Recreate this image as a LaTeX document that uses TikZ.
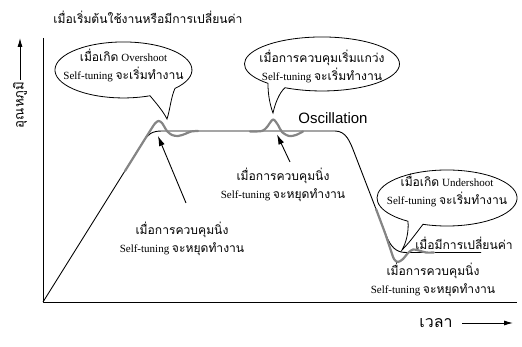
\documentclass[tikz,border=0pt]{standalone}
\usepackage{fontspec}
\setmainfont{Liberation Serif}
\newfontfamily\thai[Script=Thai,Scale=1.1]{Loma}
\newfontfamily\oscfont{Liberation Sans}
\usetikzlibrary{arrows.meta}
\newcommand{\tht}[1]{{\thai #1}}
\begin{document}
\begin{tikzpicture}[x=1pt,y=-1pt,
  txt/.style={align=center, font=\fontsize{11}{18}\selectfont, inner sep=0pt},
  bubble/.style={draw=black, line width=0.8pt, fill=white},
  blk/.style={line width=0.9pt, line join=round},
  grayc/.style={line width=2.2pt, color=black!48, line cap=round, line join=round},
  ptr/.style={line width=0.9pt, -{Latex[length=10pt,width=6pt]}},
  axptr/.style={line width=0.9pt, -{Latex[length=9pt,width=5pt]}}]
\useasboundingbox (0,0) rectangle (522,347);
% axes
\draw[blk] (43,38) -- (43,302) -- (517,302);
% black response
\draw[blk] (43,302) -- (143,142) .. controls (148,134) and (152,131) .. (162,131)
  -- (335,131) .. controls (346,131) and (350,141.6) .. (354,152)
  -- (386,235) .. controls (390.5,246.7) and (396,252.5) .. (406,252.5) -- (481,252.5);
% gray response
\draw[grayc] plot[smooth, tension=0.5] coordinates {(125,171) (150,131) (155,123.5) (158.5,121) (162,123) (167,131) (172,135) (178,136) (185,134) (191,131.5) (198,131)};
\draw[grayc] plot[smooth, tension=0.5] coordinates {(250,131.5) (262,131) (267,127) (273,119.5) (278,125) (282,132) (289,136) (296,135) (303,131.5)};
\draw[grayc] plot[smooth, tension=0.5] coordinates {(376,209) (385,233) (390,248) (394,259) (398,262) (403,259) (408,253) (413,249.5) (419,250.5) (426,252.5) (434,252.5)};
% bubbles
\draw[bubble] (175,88.4) arc[start angle=41.2, end angle=-292.8, x radius=68.5, y radius=28]
  .. controls (156,103) and (163,111) .. (167,119) .. controls (170,110) and (171,97) .. (175,88.4) -- cycle;
\draw[bubble] (285,87.7) arc[start angle=118.5, end angle=-225.8, x radius=77.5, y radius=27]
  .. controls (268,95) and (270,105) .. (273,113) .. controls (275,104) and (279,93) .. (285,87.7) -- cycle;
\draw[bubble] (423,224.3) arc[start angle=110.06, end angle=-236.1, x radius=70, y radius=28]
  .. controls (409,232) and (406,243) .. (402,250) .. controls (410,242) and (417,232) .. (423,224.3) -- cycle;
% texts
\node[txt] (t0) at (148,17) {\tht{เมื่อเริ่มต้นใช้งานหรือมีการเปลี่ยนค่า}};
\node[txt] (b1t) at (123.5,65.5) {\tht{เมื่อเกิด} Overshoot\\Self-tuning \tht{จะเริ่มทำงาน}};
\node[txt] (b2t) at (322,66) {\tht{เมื่อการควบคุมเริ่มแกว่ง}\\Self-tuning \tht{จะเริ่มทำงาน}};
\node[txt] (b3t) at (447,190) {\tht{เมื่อเกิด} Undershoot\\Self-tuning \tht{จะเริ่มทำงาน}};
\node[txt] (l1) at (182,238.5) {\tht{เมื่อการควบคุมนิ่ง}\\Self-tuning \tht{จะหยุดทำงาน}};
\node[txt] (l2) at (283,185) {\tht{เมื่อการควบคุมนิ่ง}\\Self-tuning \tht{จะหยุดทำงาน}};
\node[txt] (l3) at (433,280) {\tht{เมื่อการควบคุมนิ่ง}\\Self-tuning \tht{จะหยุดทำงาน}};
\node[txt] (chg) at (464,243) {\tht{เมื่อมีการเปลี่ยนค่า}};
\node[font=\oscfont\fontsize{15}{15}\selectfont, inner sep=0pt] (osc) at (333,118) {Oscillation};
% axis labels
\node[font=\thai\fontsize{12}{12}\selectfont, rotate=90, inner sep=0pt] (ylab) at (20,105) {อุณหภูมิ};
\coordinate (ya1) at (20,80); \coordinate (ya2) at (20,38);
\draw[axptr] (ya1) -- (ya2);
\node[font=\thai\fontsize{14.5}{14.5}\selectfont, inner sep=0pt] (xlab) at (436,323) {เวลา};
\coordinate (xa1) at (462,323); \coordinate (xa2) at (513,323);
\draw[axptr] (xa1) -- (xa2);
% pointers
\coordinate (p1) at (158,136); \coordinate (p1s) at (186,203);
\draw[ptr] (p1s) -- (p1);
\coordinate (p2) at (277,134.5); \coordinate (p2s) at (290,162);
\draw[ptr] (p2s) -- (p2);
\end{tikzpicture}
\end{document}
